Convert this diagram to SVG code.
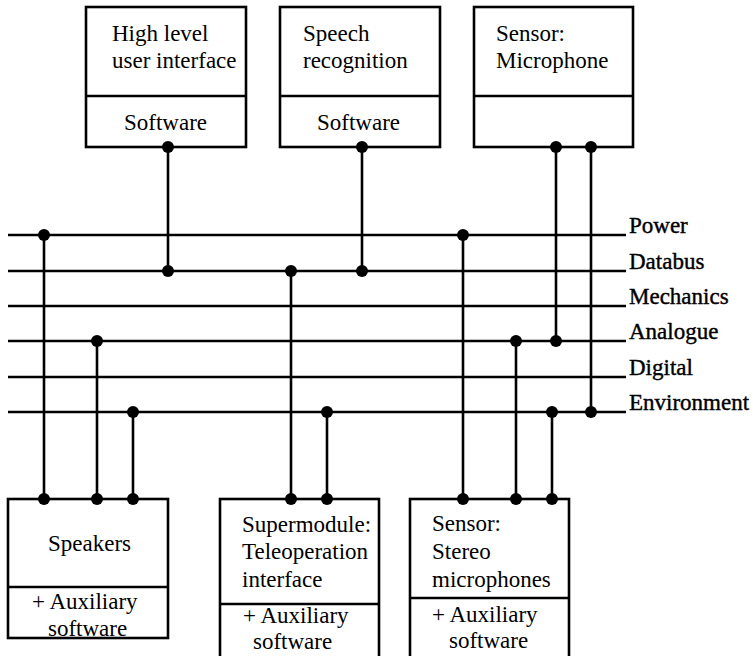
<svg xmlns="http://www.w3.org/2000/svg" width="753" height="656" viewBox="0 0 753 656">
<style>
.box{fill:#fff;stroke:#000;stroke-width:2.6}
.ln{stroke:#000;stroke-width:2.6;fill:none}
.t{font-family:"Liberation Serif","Times New Roman",serif;font-size:23px;fill:#000}
.lbl{font-family:"Liberation Serif","Times New Roman",serif;font-size:23px;fill:#000;stroke:#000;stroke-width:0.4}
.dot{fill:#000}
</style>
<rect width="753" height="656" fill="#fff"/>
<g id="connectors">
<g class="ln">
<line x1="8" y1="235" x2="626" y2="235"/>
<line x1="8" y1="271" x2="626" y2="271"/>
<line x1="8" y1="306" x2="626" y2="306"/>
<line x1="8" y1="341" x2="626" y2="341"/>
<line x1="8" y1="377" x2="626" y2="377"/>
<line x1="8" y1="412" x2="626" y2="412"/>
<line x1="168" y1="147" x2="168" y2="271"/>
<line x1="362" y1="147" x2="362" y2="271"/>
<line x1="556" y1="147" x2="556" y2="341"/>
<line x1="591" y1="147" x2="591" y2="412"/>
<line x1="44" y1="235" x2="44" y2="499"/>
<line x1="97" y1="341" x2="97" y2="499"/>
<line x1="133" y1="412" x2="133" y2="499"/>
<line x1="291" y1="271" x2="291" y2="499"/>
<line x1="327" y1="412" x2="327" y2="499"/>
<line x1="463" y1="235" x2="463" y2="499"/>
<line x1="516" y1="341" x2="516" y2="499"/>
<line x1="552" y1="412" x2="552" y2="499"/>
</g>
<g class="dot">
<circle cx="168" cy="271" r="6"/>
<circle cx="362" cy="271" r="6"/>
<circle cx="556" cy="341" r="6"/>
<circle cx="591" cy="412" r="6"/>
<circle cx="44" cy="235" r="6"/>
<circle cx="97" cy="341" r="6"/>
<circle cx="133" cy="412" r="6"/>
<circle cx="291" cy="271" r="6"/>
<circle cx="327" cy="412" r="6"/>
<circle cx="463" cy="235" r="6"/>
<circle cx="516" cy="341" r="6"/>
<circle cx="552" cy="412" r="6"/>
</g>
</g>
<g id="bus-labels">
<text class="lbl" x="629" y="233">Power</text>
<text class="lbl" x="629" y="269">Databus</text>
<text class="lbl" x="629" y="304">Mechanics</text>
<text class="lbl" x="629" y="339">Analogue</text>
<text class="lbl" x="629" y="375">Digital</text>
<text class="lbl" x="629" y="410">Environment</text>
</g>
<g id="hlui">
<rect class="box" x="86" y="7" width="160" height="140"/>
<line class="ln" x1="86" y1="96" x2="246" y2="96"/>
<text class="t" x="112" y="41">High level</text>
<text class="t" x="112" y="68">user interface</text>
<text class="t" x="124" y="130">Software</text>
<circle class="dot" cx="168" cy="147" r="6"/>
</g>
<g id="speech">
<rect class="box" x="280" y="7" width="160" height="140"/>
<line class="ln" x1="280" y1="96" x2="440" y2="96"/>
<text class="t" x="303" y="41">Speech</text>
<text class="t" x="303" y="68">recognition</text>
<text class="t" x="317" y="130">Software</text>
<circle class="dot" cx="362" cy="147" r="6"/>
</g>
<g id="microphone">
<rect class="box" x="474" y="7" width="159" height="140"/>
<line class="ln" x1="474" y1="96" x2="633" y2="96"/>
<text class="t" x="496" y="41">Sensor:</text>
<text class="t" x="496" y="68">Microphone</text>
<circle class="dot" cx="556" cy="147" r="6"/>
<circle class="dot" cx="591" cy="147" r="6"/>
</g>
<g id="speakers">
<rect class="box" x="8" y="499" width="160" height="139"/>
<line class="ln" x1="8" y1="587" x2="168" y2="587"/>
<text class="t" x="48" y="551">Speakers</text>
<text class="t" x="32" y="609">+ Auxiliary</text>
<text class="t" x="48" y="636">software</text>
<circle class="dot" cx="44" cy="499" r="6"/>
<circle class="dot" cx="97" cy="499" r="6"/>
<circle class="dot" cx="133" cy="499" r="6"/>
</g>
<g id="teleoperation">
<rect class="box" x="220" y="499" width="159" height="165"/>
<line class="ln" x1="220" y1="604" x2="379" y2="604"/>
<text class="t" x="242" y="532">Supermodule:</text>
<text class="t" x="242" y="559">Teleoperation</text>
<text class="t" x="242" y="587">interface</text>
<text class="t" x="243" y="623">+ Auxiliary</text>
<text class="t" x="253" y="649">software</text>
<circle class="dot" cx="291" cy="499" r="6"/>
<circle class="dot" cx="327" cy="499" r="6"/>
</g>
<g id="stereo">
<rect class="box" x="410" y="499" width="159" height="165"/>
<line class="ln" x1="410" y1="598" x2="569" y2="598"/>
<text class="t" x="432" y="531">Sensor:</text>
<text class="t" x="432" y="559">Stereo</text>
<text class="t" x="432" y="587">microphones</text>
<text class="t" x="432" y="622">+ Auxiliary</text>
<text class="t" x="449" y="648">software</text>
<circle class="dot" cx="463" cy="499" r="6"/>
<circle class="dot" cx="516" cy="499" r="6"/>
<circle class="dot" cx="552" cy="499" r="6"/>
</g>
</svg>
